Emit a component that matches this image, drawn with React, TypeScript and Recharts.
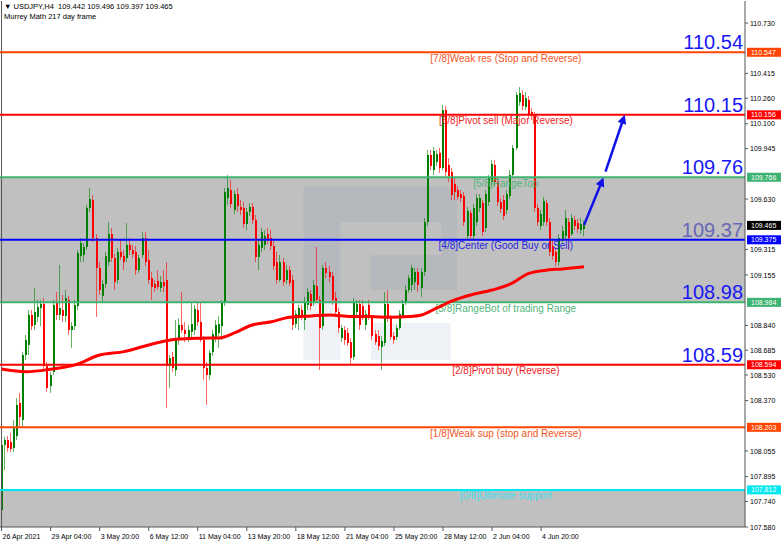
import React from "react"
import {
  ComposedChart,
  Bar,
  Line,
  XAxis,
  YAxis,
  ReferenceLine,
  ReferenceArea,
} from "recharts"

// USDJPY H4 candles, oldest first
const opens = [
  107.686, 108.093, 108.124, 108.111, 108.074, 108.149, 108.355, 108.249, 108.655, 108.718,
  108.905, 108.843, 108.893, 108.949, 108.974, 108.586, 108.461, 108.549, 108.986, 108.905,
  108.936, 108.899, 108.999, 108.811, 108.836, 108.961, 109.274, 109.28, 109.33, 109.574,
  109.624, 109.386, 109.199, 109.024, 109.099, 109.236, 109.411, 109.261, 109.124, 109.299,
  109.274, 109.261, 109.343, 109.311, 109.299, 109.186, 109.28, 109.386, 109.249, 109.136,
  109.099, 109.118, 109.074, 109.111, 109.124, 108.586, 108.643, 108.561, 108.749, 108.843,
  108.811, 108.761, 108.799, 108.811, 108.936, 108.861, 108.749, 108.574, 108.53, 108.674,
  108.761, 108.793, 108.836, 108.98, 109.636, 109.686, 109.561, 109.661, 109.58, 109.574,
  109.474, 109.549, 109.58, 109.499, 109.268, 109.324, 109.343, 109.411, 109.386, 109.336,
  109.236, 109.124, 109.236, 109.124, 109.186, 109.124, 108.849, 108.886, 108.936, 108.874,
  108.968, 109.036, 108.98, 109.086, 108.999, 108.836, 109.199, 109.174, 109.149, 109.011,
  108.924, 108.761, 108.811, 108.793, 108.736, 108.643, 108.924, 108.974, 108.961, 108.843,
  108.968, 108.886, 108.786, 108.774, 108.705, 108.73, 108.974, 108.886, 108.774, 108.768,
  108.824, 108.899, 108.986, 109.061, 109.093, 109.111, 109.174, 109.074, 109.174, 109.486,
  109.905, 109.811, 109.861, 109.918, 109.824, 110.186, 109.843, 109.799, 109.724, 109.686,
  109.661, 109.649, 109.399, 109.543, 109.399, 109.486, 109.574, 109.605, 109.449, 109.611,
  109.736, 109.843, 109.736, 109.611, 109.624, 109.561, 109.649, 109.78, 109.949, 110.236,
  110.28, 110.205, 110.249, 110.174, 110.155, 109.574, 109.461, 109.486, 109.605, 109.486,
  109.336, 109.299, 109.236, 109.374, 109.399, 109.486, 109.411, 109.499, 109.48, 109.436,
  109.442,
]
const highs = [
  108.174, 108.143, 108.149, 108.168, 108.249, 108.386, 108.418, 108.674, 108.78, 108.936,
  108.936, 109.074, 108.999, 108.999, 109.011, 108.611, 108.549, 108.999, 109.049, 109.218,
  109.03, 109.061, 109.024, 108.861, 108.999, 109.311, 109.386, 109.355, 109.593, 109.699,
  109.655, 109.411, 109.236, 109.124, 109.299, 109.486, 109.449, 109.286, 109.324, 109.374,
  109.311, 109.48, 109.386, 109.343, 109.336, 109.28, 109.424, 109.424, 109.311, 109.174,
  109.124, 109.186, 109.149, 109.186, 109.236, 108.655, 108.674, 108.874, 108.886, 109.049,
  108.861, 108.843, 108.98, 108.968, 108.98, 108.98, 108.774, 108.611, 108.686, 108.811,
  108.874, 108.899, 108.999, 109.699, 109.78, 109.749, 109.686, 109.699, 109.624, 109.611,
  109.574, 109.605, 109.605, 109.53, 109.374, 109.449, 109.436, 109.449, 109.436, 109.374,
  109.299, 109.28, 109.261, 109.218, 109.211, 109.155, 108.936, 108.968, 108.968, 109.018,
  109.074, 109.061, 109.124, 109.33, 109.024, 109.218, 109.236, 109.211, 109.174, 109.049,
  108.949, 108.843, 108.836, 108.824, 108.761, 109.011, 108.999, 108.999, 108.999, 108.936,
  108.999, 108.905, 108.811, 108.811, 108.774, 109.049, 109.061, 108.905, 108.799, 108.843,
  108.936, 108.999, 109.093, 109.155, 109.218, 109.199, 109.199, 109.199, 109.511, 109.936,
  109.936, 109.955, 109.936, 109.949, 110.218, 110.211, 109.886, 109.824, 109.761, 109.711,
  109.686, 109.674, 109.58, 109.561, 109.599, 109.661, 109.661, 109.624, 109.686, 109.78,
  109.874, 109.874, 109.761, 109.636, 109.655, 109.686, 109.811, 109.968, 110.299, 110.33,
  110.311, 110.299, 110.274, 110.199, 110.174, 109.599, 109.561, 109.643, 109.624, 109.511,
  109.374, 109.324, 109.411, 109.461, 109.561, 109.511, 109.536, 109.524, 109.505, 109.511,
  109.496,
]
const lows = [
  107.649, 107.936, 108.049, 108.049, 108.049, 108.124, 108.205, 108.199, 108.624, 108.655,
  108.811, 108.811, 108.861, 108.836, 108.561, 108.424, 108.418, 108.53, 108.874, 108.874,
  108.861, 108.861, 108.78, 108.699, 108.811, 108.936, 109.236, 109.236, 109.311, 109.549,
  109.361, 108.893, 109.03, 108.986, 109.074, 109.211, 109.236, 109.061, 109.099, 109.249,
  109.186, 109.236, 109.28, 109.261, 109.155, 109.168, 109.261, 109.211, 109.099, 108.999,
  109.049, 109.061, 109.049, 109.049, 108.324, 108.449, 108.549, 108.524, 108.718, 108.793,
  108.736, 108.736, 108.761, 108.78, 108.836, 108.736, 108.499, 108.343, 108.499, 108.649,
  108.736, 108.699, 108.749, 108.961, 109.593, 109.574, 109.536, 109.549, 109.53, 109.449,
  109.436, 109.524, 109.474, 109.236, 109.186, 109.299, 109.311, 109.349, 109.311, 109.186,
  109.099, 109.111, 109.086, 109.099, 109.086, 108.811, 108.824, 108.811, 108.874, 108.811,
  108.936, 108.936, 108.961, 108.986, 108.561, 108.811, 109.136, 109.111, 108.968, 108.899,
  108.793, 108.736, 108.718, 108.711, 108.599, 108.624, 108.899, 108.811, 108.874, 108.811,
  108.874, 108.749, 108.718, 108.686, 108.561, 108.711, 108.861, 108.749, 108.724, 108.749,
  108.811, 108.886, 108.968, 109.043, 109.049, 109.061, 109.049, 109.018, 109.149, 109.461,
  109.811, 109.78, 109.836, 109.793, 109.811, 109.774, 109.736, 109.624, 109.624, 109.624,
  109.611, 109.461, 109.374, 109.374, 109.374, 109.461, 109.549, 109.399, 109.424, 109.586,
  109.711, 109.711, 109.586, 109.543, 109.499, 109.536, 109.63, 109.768, 109.936, 110.211,
  110.186, 110.186, 110.136, 110.124, 109.549, 109.461, 109.436, 109.461, 109.461, 109.274,
  109.249, 109.211, 109.211, 109.349, 109.374, 109.311, 109.399, 109.436, 109.418, 109.411,
  109.397,
]
const closes = [
  108.093, 108.124, 108.074, 108.068, 108.199, 108.343, 108.268, 108.655, 108.749, 108.905,
  108.836, 108.924, 108.955, 108.974, 108.586, 108.449, 108.53, 108.968, 108.905, 108.949,
  108.899, 109.011, 108.811, 108.836, 108.968, 109.293, 109.355, 109.33, 109.574, 109.63,
  109.386, 109.199, 109.061, 109.099, 109.274, 109.411, 109.261, 109.111, 109.299, 109.268,
  109.236, 109.343, 109.311, 109.286, 109.186, 109.261, 109.386, 109.236, 109.124, 109.08,
  109.074, 109.08, 109.111, 109.086, 108.586, 108.636, 108.574, 108.749, 108.843, 108.811,
  108.786, 108.811, 108.849, 108.943, 108.861, 108.749, 108.574, 108.53, 108.668, 108.786,
  108.843, 108.849, 108.98, 109.674, 109.699, 109.599, 109.661, 109.586, 109.561, 109.474,
  109.549, 109.58, 109.499, 109.268, 109.343, 109.424, 109.399, 109.374, 109.336, 109.211,
  109.124, 109.236, 109.111, 109.186, 109.105, 108.843, 108.911, 108.949, 108.899, 108.986,
  109.049, 108.961, 109.093, 108.999, 108.824, 109.199, 109.168, 109.143, 108.999, 108.924,
  108.824, 108.824, 108.749, 108.73, 108.636, 108.986, 108.974, 108.843, 108.899, 108.911,
  108.899, 108.774, 108.736, 108.711, 108.743, 108.974, 108.886, 108.768, 108.749, 108.824,
  108.911, 108.974, 109.061, 109.136, 109.199, 109.174, 109.093, 109.174, 109.486, 109.905,
  109.836, 109.93, 109.911, 109.824, 110.186, 109.799, 109.774, 109.655, 109.674, 109.643,
  109.636, 109.486, 109.555, 109.399, 109.574, 109.636, 109.636, 109.424, 109.661, 109.761,
  109.849, 109.736, 109.611, 109.568, 109.524, 109.661, 109.78, 109.949, 110.28, 110.293,
  110.211, 110.261, 110.161, 110.149, 109.574, 109.486, 109.536, 109.618, 109.486, 109.299,
  109.274, 109.236, 109.386, 109.43, 109.511, 109.386, 109.511, 109.461, 109.443, 109.474,
  109.465,
]

// moving average, sampled at these bars
const maBars = [0, 8, 16, 24, 32, 40, 48, 57, 65, 71, 76, 81, 88, 94, 101, 107, 114, 120, 127, 133, 137, 142, 147, 153, 160, 166, 172, 178, 183, 190]
const maValues = [
  108.568, 108.551, 108.566, 108.593, 108.655, 108.676, 108.718, 108.753, 108.76, 108.762,
  108.793, 108.838, 108.863, 108.891, 108.899, 108.905, 108.895, 108.895, 108.891, 108.895,
  108.905, 108.949, 108.993, 109.03, 109.061, 109.099, 109.165, 109.186, 109.193, 109.207,
]

// the two forecast arrows
const arrowOneBars = [190, 196]
const arrowOnePrices = [109.468, 109.749]
const arrowTwoBars = [197, 203]
const arrowTwoPrices = [109.801, 110.141]

const timeTicks = [0, 16, 32, 48, 64, 80, 96, 112, 128, 144, 160, 176]
const timeLabels = [
  "26 Apr 2021", "29 Apr 04:00", "3 May 20:00", "6 May 12:00", "11 May 04:00", "13 May 20:00",
  "18 May 12:00", "21 May 04:00", "25 May 20:00", "28 May 12:00", "2 Jun 04:00", "4 Jun 20:00",
]

const priceTicks = [
  110.73, 110.415, 110.26, 110.1, 109.945, 109.63, 109.315, 109.155, 108.84, 108.685,
  108.53, 108.37, 108.055, 107.895, 107.74, 107.58,
]

// Murrey Math levels 7/8 .. 0/8
const levelValues = [110.547, 110.156, 109.766, 109.375, 108.984, 108.594, 108.203, 107.812]
const levelNames = [
  "[7/8]Weak res (Stop and Reverse)",
  "[6/8]Pivot sell (Major Reverse)",
  "[5/8]RangeTop",
  "[4/8]Center (Good Buy or Sell)",
  "[3/8]RangeBot of trading Range",
  "[2/8]Pivot buy (Reverse)",
  "[1/8]Weak sup (stop and Reverse)",
  "[0/8]Ultimate support",
]
const levelBig = ["110.54", "110.15", "109.76", "109.37", "108.98", "108.59", "", ""]
const lastPrice = 109.465

const levelColors = ["#ff4500", "#ff0000", "#3cb371", "#0000ff", "#3cb371", "#ff0000", "#ff4500", "#00e8f0"]
const levelTextColors = ["#f2541e", "#ee1c1c", "#52b47a", "#2626e0", "#52b47a", "#ee1c1c", "#f2541e", "#3fdfee"]

// faint "R" logo behind the candles
const wmFrom = [99, 99, 144, 121, 121]
const wmTo = [148, 110, 148, 148, 146]
const wmTop = [109.706, 109.486, 109.486, 109.28, 108.855]
const wmBottom = [109.486, 108.624, 109.28, 109.061, 108.624]

const SLOTS = 243
const FONT = "'Liberation Sans', Arial, sans-serif"

const rows = Array.from({ length: SLOTS }, (_, i) => {
  const row: any = { i }
  if (i < opens.length) {
    row.o = opens[i]
    row.h = highs[i]
    row.l = lows[i]
    row.c = closes[i]
    row.range = [lows[i], highs[i]]
  }
  const m = maBars.indexOf(i)
  if (m >= 0) row.ma = maValues[m]
  const a = arrowOneBars.indexOf(i)
  if (a >= 0) row.a1 = arrowOnePrices[a]
  const b = arrowTwoBars.indexOf(i)
  if (b >= 0) row.a2 = arrowTwoPrices[b]
  return row
})

function Candle(props: any) {
  const { x, y, width, height, payload } = props
  if (!payload || payload.o == null) return null
  const { o, h, l, c } = payload
  const color = c >= o ? "#008000" : "#ff0000"
  const top = Math.min(y, y + height)
  const full = Math.abs(height)
  const span = h - l || 1
  const py = (v: number) => top + ((h - v) / span) * full
  const cx = Math.round(x + width / 2)
  const b1 = py(Math.max(o, c))
  const b2 = py(Math.min(o, c))
  return (
    <g>
      <line x1={cx - 0.5} x2={cx - 0.5} y1={top} y2={top + full} stroke={color} strokeOpacity={0.6} />
      <rect x={cx - 1} y={b1} width={2} height={Math.max(1, b2 - b1)} fill={color} />
    </g>
  )
}

function PriceBox({ x, y, bg, value }: any) {
  return (
    <g>
      <rect x={x + 2} y={y - 4.5} width={34} height={9} fill={bg} />
      <text x={x + 6} y={y + 2.6} fontSize={7} fontFamily={FONT} fill="#fff">
        {value.toFixed(3)}
      </text>
    </g>
  )
}

function LevelLabel({ viewBox, k }: any) {
  if (!viewBox) return null
  const { x, y, width } = viewBox
  return (
    <g>
      <text x={x + width * 0.679} y={y + 9.5} textAnchor="middle" fontSize={10} fontFamily={FONT} fill={levelTextColors[k]}>
        {levelNames[k]}
      </text>
      {levelBig[k] ? (
        <text x={x + width - 2} y={y - 3} textAnchor="end" fontSize={20} fontFamily={FONT} fill={k === 3 ? "#6767b6" : "#1717f5"}>
          {levelBig[k]}
        </text>
      ) : null}
      <PriceBox x={x + width} y={y} bg={levelColors[k]} value={levelValues[k]} />
    </g>
  )
}

function TimeTick(props: any) {
  const { x, y, payload } = props
  const k = timeTicks.indexOf(payload.value)
  return (
    <text x={x + 1} y={y + 6} fontSize={7} fontFamily={FONT} fill="#000">
      {timeLabels[k]}
    </text>
  )
}

function PriceTick(props: any) {
  const { x, y, payload } = props
  return (
    <text x={x} y={y + 2.5} fontSize={7} fontFamily={FONT} fill="#000">
      {Number(payload.value).toFixed(3)}
    </text>
  )
}

export default function App() {
  return (
    <div style={{ position: "absolute", left: 0, top: 0, width: 782, height: 545, background: "#fff" }}>
      <ComposedChart
        width={782}
        height={545}
        data={rows}
        margin={{ top: 1, right: 0, bottom: 0, left: 0 }}
        barCategoryGap={0}
      >
        <defs>
          <marker id="arrowHead" viewBox="0 0 10 10" refX="7" refY="5" markerWidth="4" markerHeight="3.6" orient="auto">
            <path d="M0,0 L10,5 L0,10 z" fill="#1212e8" />
          </marker>
        </defs>
        <XAxis
          dataKey="i"
          type="category"
          ticks={timeTicks}
          interval={0}
          tick={TimeTick}
          tickSize={4}
          height={18}
          axisLine={{ stroke: "#555" }}
          tickLine={{ stroke: "#555" }}
        />
        <YAxis
          orientation="right"
          width={37}
          domain={[107.58, 110.8675]}
          allowDataOverflow
          ticks={priceTicks}
          interval={0}
          tick={PriceTick}
          tickSize={3}
          axisLine={{ stroke: "#555" }}
          tickLine={{ stroke: "#555" }}
        />
        <ReferenceArea y1={108.984} y2={109.766} fill="#c0c0c0" fillOpacity={1} stroke="none" />
        <ReferenceArea y1={107.58} y2={107.812} fill="#c0c0c0" fillOpacity={1} stroke="none" />
        {wmFrom.map((x1, k) => (
          <ReferenceArea
            key={"wm" + k}
            x1={x1}
            x2={wmTo[k]}
            y1={wmBottom[k]}
            y2={wmTop[k]}
            fill="#5a74a4"
            fillOpacity={0.1}
            stroke="none"
          />
        ))}
        <ReferenceLine x={0} stroke="#555" />
        {levelValues.map((v, k) => (
          <ReferenceLine
            key={"lv" + k}
            y={v}
            stroke={levelColors[k]}
            strokeWidth={2}
            label={(p: any) => <LevelLabel viewBox={p.viewBox} k={k} />}
          />
        ))}
        <ReferenceLine
          y={lastPrice}
          stroke="none"
          label={(p: any) => (p.viewBox ? <PriceBox x={p.viewBox.x + p.viewBox.width} y={p.viewBox.y} bg="#000" value={lastPrice} /> : null)}
        />
        <Bar dataKey="range" shape={(p: any) => <Candle {...p} />} isAnimationActive={false} />
        <Line
          dataKey="ma"
          type="monotone"
          stroke="#ff0000"
          strokeWidth={3}
          dot={false}
          activeDot={false}
          connectNulls
          isAnimationActive={false}
        />
        <Line
          dataKey="a1"
          stroke="#1212e8"
          strokeWidth={2.5}
          dot={false}
          activeDot={false}
          connectNulls
          markerEnd="url(#arrowHead)"
          isAnimationActive={false}
        />
        <Line
          dataKey="a2"
          stroke="#1212e8"
          strokeWidth={2.5}
          dot={false}
          activeDot={false}
          connectNulls
          markerEnd="url(#arrowHead)"
          isAnimationActive={false}
        />
      </ComposedChart>
      <div
        style={{
          position: "absolute",
          left: 4,
          top: 2,
          fontFamily: FONT,
          fontSize: 7.5,
          lineHeight: "10px",
          color: "#000",
          whiteSpace: "pre",
        }}
      >
        <div>▼ USDJPY,H4  109.442 109.496 109.397 109.465</div>
        <div>Murrey Math 217 day frame</div>
      </div>
    </div>
  )
}
